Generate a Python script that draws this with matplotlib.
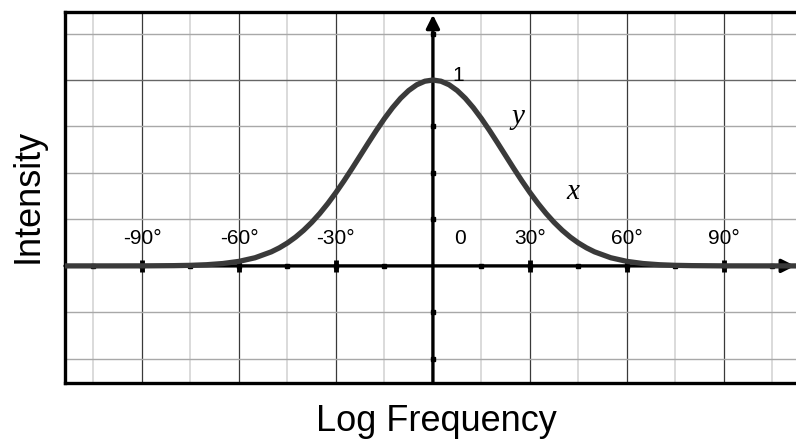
import numpy as np
import matplotlib
matplotlib.use('Agg')
import matplotlib.pyplot as plt

plt.rcParams['font.family'] = ['Liberation Sans', 'DejaVu Sans']

# ── data ─────────────────────────────────────────────────────────────────────
angle = [-115, -100, -90, -80, -75, -70, -65, -60, -55, -50, -47.5, -45, -42.5,
         -40, -37.5, -35, -32.5, -30, -27.5, -25, -22.5, -20, -17.5, -15, -12.5,
         -10, -7.5, -5, -2.5, 0, 2.5, 5, 7.5, 10, 12.5, 15, 17.5, 20, 22.5, 25,
         27.5, 30, 32.5, 35, 37.5, 40, 42.5, 45, 47.5, 50, 55, 60, 65, 70, 75,
         80, 90, 100, 115]
intensity = [0.0, 0.0, 0.0002, 0.0014, 0.003, 0.0063, 0.0127, 0.0243, 0.0439,
             0.0756, 0.0972, 0.1234, 0.1547, 0.1915, 0.2339, 0.2821, 0.3358,
             0.3947, 0.4578, 0.5243, 0.5928, 0.6615, 0.7288, 0.7926, 0.851,
             0.9019, 0.9435, 0.9745, 0.9936, 1.0, 0.9936, 0.9745, 0.9435, 0.9019,
             0.851, 0.7926, 0.7288, 0.6615, 0.5928, 0.5243, 0.4578, 0.3947,
             0.3358, 0.2821, 0.2339, 0.1915, 0.1547, 0.1234, 0.0972, 0.0756,
             0.0439, 0.0243, 0.0127, 0.0063, 0.003, 0.0014, 0.0002, 0.0, 0.0]

major_x = [-90, -60, -30, 30, 60, 90]
minor_x = [-105, -75, -45, -15, 15, 45, 75, 105]
grid_y = [-0.5, -0.25, 0.25, 0.5, 0.75, 1.25]
ytick_marks = [-0.5, -0.25, 0.25, 0.5, 0.75, 1.25]
xtick_marks = [-105, -90, -75, -60, -45, -30, -15, 15, 30, 45, 60, 75, 90, 105]
deg_labels = ['-90°', '-60°', '-30°', '30°', '60°', '90°']

XMIN, XMAX = -113.8, 112.3
YMIN, YMAX = -0.63, 1.366

fig = plt.figure(figsize=(7.96, 4.44), dpi=100)
ax = fig.add_axes([65/796, 1 - 383/444, 1 - 65/796, (383 - 12)/444])
ax.set_xlim(XMIN, XMAX)
ax.set_ylim(YMIN, YMAX)
ax.set_xticks([]); ax.set_yticks([])

for s in ['left', 'top', 'bottom']:
    ax.spines[s].set_linewidth(2.4)
    ax.spines[s].set_color('black')
ax.spines['right'].set_visible(False)

# grid
for gx in minor_x:
    ax.axvline(gx, color='#d4d4d4', lw=1.2, zorder=1)
for gx in major_x:
    ax.axvline(gx, color='#3a3a3a', lw=0.9, zorder=1)
for gy in grid_y:
    ax.axhline(gy, color='#a8a8a8', lw=1.0, zorder=1)
ax.axhline(1.0, color='#666666', lw=1.0, zorder=1)

# axes with arrows
ax.annotate('', xy=(0, YMAX - 0.015), xytext=(0, YMIN),
            arrowprops=dict(arrowstyle='-|>', color='black', lw=2.4,
                            mutation_scale=20, shrinkA=0, shrinkB=0), zorder=3)
ax.annotate('', xy=(XMAX - 0.3, 0), xytext=(XMIN, 0),
            arrowprops=dict(arrowstyle='-|>', color='black', lw=2.4,
                            mutation_scale=20, shrinkA=0, shrinkB=0), zorder=3)

# tick marks on the axes
ax.plot(xtick_marks, [0]*len(xtick_marks), 's', color='black', ms=3.5, zorder=4)
ax.plot(major_x, [0]*len(major_x), '|', color='black', ms=9, mew=3.5, zorder=4)
ax.plot([0]*len(ytick_marks), ytick_marks, 's', color='black', ms=3.5, zorder=4)

# curve
ax.plot(angle, intensity, color='#3a3a3a', lw=3.8, zorder=5,
        solid_capstyle='butt', clip_on=True)

# labels on the plot
for xv, lab in zip(major_x, deg_labels):
    ax.text(xv, 0.145, lab, ha='center', va='center', fontsize=15)
ax.text(8.4, 0.145, '0', ha='center', va='center', fontsize=15)
ax.text(7.7, 1.025, '1', ha='center', va='center', fontsize=15)
ax.text(26.3, 0.80, 'y', ha='center', va='center', fontsize=21,
        family='Liberation Serif', style='italic')
ax.text(43.3, 0.40, 'x', ha='center', va='center', fontsize=21,
        family='Liberation Serif', style='italic')

fig.text(28/796, 1 - 196/444, 'Intensity', rotation=90, ha='center',
         va='center', fontsize=26)
fig.text(436/796, 1 - 421/444, 'Log Frequency', ha='center', va='center',
         fontsize=26)

fig.savefig('out.png', dpi=100)
